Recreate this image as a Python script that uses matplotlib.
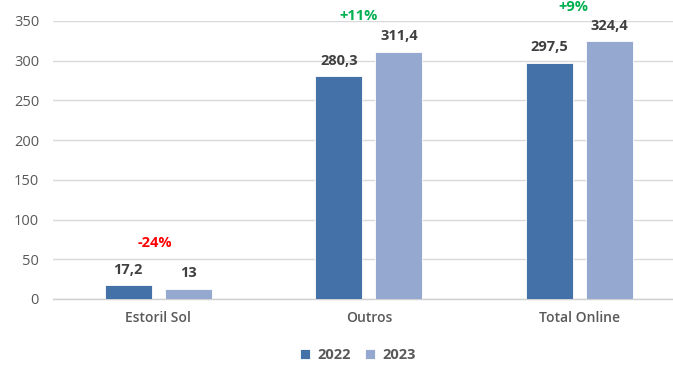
import matplotlib
matplotlib.use("Agg")
import matplotlib.pyplot as plt
import numpy as np

categories = ["Estoril Sol", "Outros", "Total Online"]
series_names = ["2022", "2023"]
values_2022 = [17.2, 280.3, 297.5]
values_2023 = [13, 311.4, 324.4]
labels_2022 = ["17,2", "280,3", "297,5"]
labels_2023 = ["13", "311,4", "324,4"]
changes = ["-24%", "+11%", "+9%"]
change_colors = ["#FF0000", "#00B050", "#00B050"]
yticks = [0, 50, 100, 150, 200, 250, 300, 350]

plt.rcParams['font.family'] = ['Open Sans', 'DejaVu Sans']

W, H = 673, 365
fig = plt.figure(figsize=(W/100, H/100), dpi=100)
ax = fig.add_axes([53/W, 1 - 299/H, (673-53)/W, 278/H])

x = np.arange(len(categories))
bw = 0.223
off = 0.1425
c1, c2 = "#4472A8", "#95A9D0"
ax.bar(x - off, values_2022, bw, color=c1, edgecolor="white", linewidth=0.6, label=series_names[0], zorder=3)
ax.bar(x + off, values_2023, bw, color=c2, edgecolor="white", linewidth=0.6, label=series_names[1], zorder=3)

ax.set_ylim(0, 350)
ax.set_xlim(-0.5, (673 - 158.5) / 210.5)
ax.set_yticks(yticks)
ax.set_yticklabels([str(t) for t in yticks], fontsize=10.5, color="#595959")
ax.set_xticks(x)
ax.set_xticklabels(categories, fontsize=10, color="#595959", fontweight="semibold")
ax.tick_params(axis="both", length=0)
ax.tick_params(axis="y", pad=10)
ax.tick_params(axis="x", pad=9)
ax.grid(axis="y", color="#D9D9D9", linewidth=1.0, zorder=0)
for s in ["top", "right", "left"]:
    ax.spines[s].set_visible(False)
ax.spines["bottom"].set_color("#D0D0D0")
ax.spines["bottom"].set_linewidth(1.0)

for i in range(len(categories)):
    ax.annotate(labels_2022[i], (x[i] - off, values_2022[i]), xytext=(0, 6), textcoords="offset points",
                ha="center", va="bottom", fontsize=10.5, fontweight="bold", color="#404040")
    ax.annotate(labels_2023[i], (x[i] + off, values_2023[i]), xytext=(0, 6), textcoords="offset points",
                ha="center", va="bottom", fontsize=10.5, fontweight="bold", color="#404040")

# change annotations
chg_pos = [(-0.017, 70), (-0.05, 356), (-0.03, 368)]
for i in range(len(categories)):
    cx = x[i] + chg_pos[i][0]
    ax.text(cx, chg_pos[i][1], changes[i], ha="center", va="center", fontsize=10.5,
            fontweight="bold", color=change_colors[i], clip_on=False)

leg = fig.legend(loc="center", bbox_to_anchor=(358/W, 1 - 355/H), ncol=2, frameon=False,
                 fontsize=10.5, handlelength=0.7, handleheight=0.7, handletextpad=0.5, columnspacing=1.0)
for t in leg.get_texts():
    t.set_color("#595959")
    t.set_fontweight("bold")

fig.savefig("out.png", dpi=100)
